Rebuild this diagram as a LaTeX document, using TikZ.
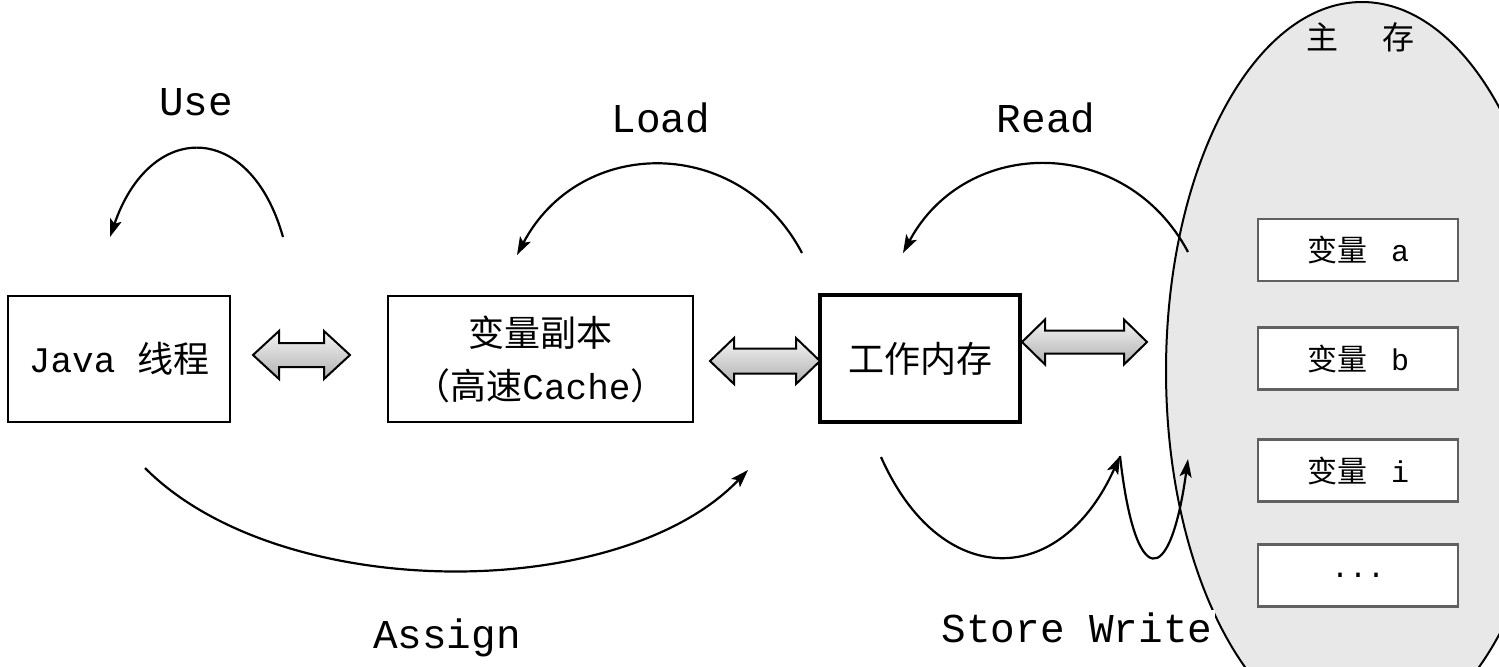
\documentclass[tikz,border=0pt]{standalone}
\usepackage{fontspec}
\setmainfont{Liberation Mono}
\newfontfamily\cjk{Noto Sans CJK SC}
\usetikzlibrary{arrows.meta,shapes.geometric}
\newcommand\DblArr[6]{\draw[dblarr] (#1,#3) -- ++(#6,-#4) -- ++(0,#4-#5) -- (#2-#6,#3-#5) -- ++(0,#5-#4) -- (#2,#3) -- ++(-#6,#4) -- ++(0,#5-#4) -- (#1+#6,#3+#5) -- ++(0,#4-#5) -- cycle;}
\begin{document}
\begin{tikzpicture}[x=0.5pt,y=-0.5pt,
  box/.style={draw=black,line width=1.4pt,fill=white,inner sep=0pt,font=\fontsize{18}{26.5}\selectfont,align=center},
  membox/.style={draw=gray!75!black,line width=1.2pt,fill=white,minimum width=100pt,minimum height=31pt,inner sep=0pt,font=\fontsize{15}{18}\selectfont},
  dblarr/.style={draw=black,line width=1pt,line join=miter,top color=gray!8,bottom color=gray!62},
  flow/.style={draw=black,line width=1.1pt,-{Stealth[length=9pt,width=6pt,inset=2pt]}},
  lbl/.style={font=\fontsize{20.5}{24}\selectfont,inner sep=1.5pt}]
\useasboundingbox[fill=white] (0,0) rectangle (1499,666);
% main memory
\node[ellipse,draw=black,line width=1pt,fill=gray!18,minimum width=196pt,minimum height=369pt,inner sep=0pt] (mem) at (1362,371) {};
\node[font=\fontsize{16}{18}\selectfont\cjk] (memlbl) at (1360,37) {主\hspace{22pt}存};
\node[membox] (va) at (1358,250) {{\cjk 变量}\hspace{0.8em}a};
\node[membox] (vb) at (1358,358.5) {{\cjk 变量}\hspace{0.8em}b};
\node[membox] (vi) at (1358,470.5) {{\cjk 变量}\hspace{0.8em}i};
\node[membox] (vd) at (1358,575.5) {...};
% boxes
\node[box,minimum width=111pt,minimum height=63pt] (java) at (119,359) {Java {\cjk 线程}};
\node[box,minimum width=152.5pt,minimum height=63pt] (cache) at (540.5,359) {{\cjk 变量副本}\\{\cjk （高速}Cache{\cjk ）}};
\node[box,line width=1.7pt,minimum width=100pt,minimum height=63.5pt] (wm) at (920,358.5) {\cjk 工作内存};
% double arrows
\DblArr{253}{350}{355}{24}{12}{26}
\DblArr{710}{820}{361}{23}{12.5}{24}
\DblArr{1022}{1147}{342}{22.5}{11.5}{23}
% coordinates of the flow arrows
\coordinate (u1) at (283,237); \coordinate (u2) at (110,237);
\coordinate (l1) at (802,253); \coordinate (l2) at (517,255);
\coordinate (r1) at (1188,252); \coordinate (r2) at (903,253);
\coordinate (a1) at (145,468); \coordinate (a2) at (748,470);
\coordinate (s1) at (881,457); \coordinate (s2) at (1120,456);
\coordinate (w2) at (1188,459);
\draw[flow] (u1) .. controls (250,120) and (150,120) .. (u2);
\draw[flow] (l1) .. controls (740,135) and (580,135) .. (l2);
\draw[flow] (r1) .. controls (1126,135) and (966,135) .. (r2);
\draw[flow] (a1) .. controls (280,604) and (620,604) .. (a2);
\draw[flow] (s1) .. controls (940,590) and (1060,590) .. (s2);
\draw[flow] (s2) .. controls (1135,590) and (1170,590) .. (w2);
% labels
\node[lbl] (use) at (196,102) {Use};
\node[lbl] (load) at (661,118) {Load};
\node[lbl] (read) at (1046,118) {Read};
\node[lbl] (assign) at (447,638) {Assign};
\node[lbl,fill=white] (sw) at (1077,628) {Store Write};
\end{tikzpicture}
\end{document}
